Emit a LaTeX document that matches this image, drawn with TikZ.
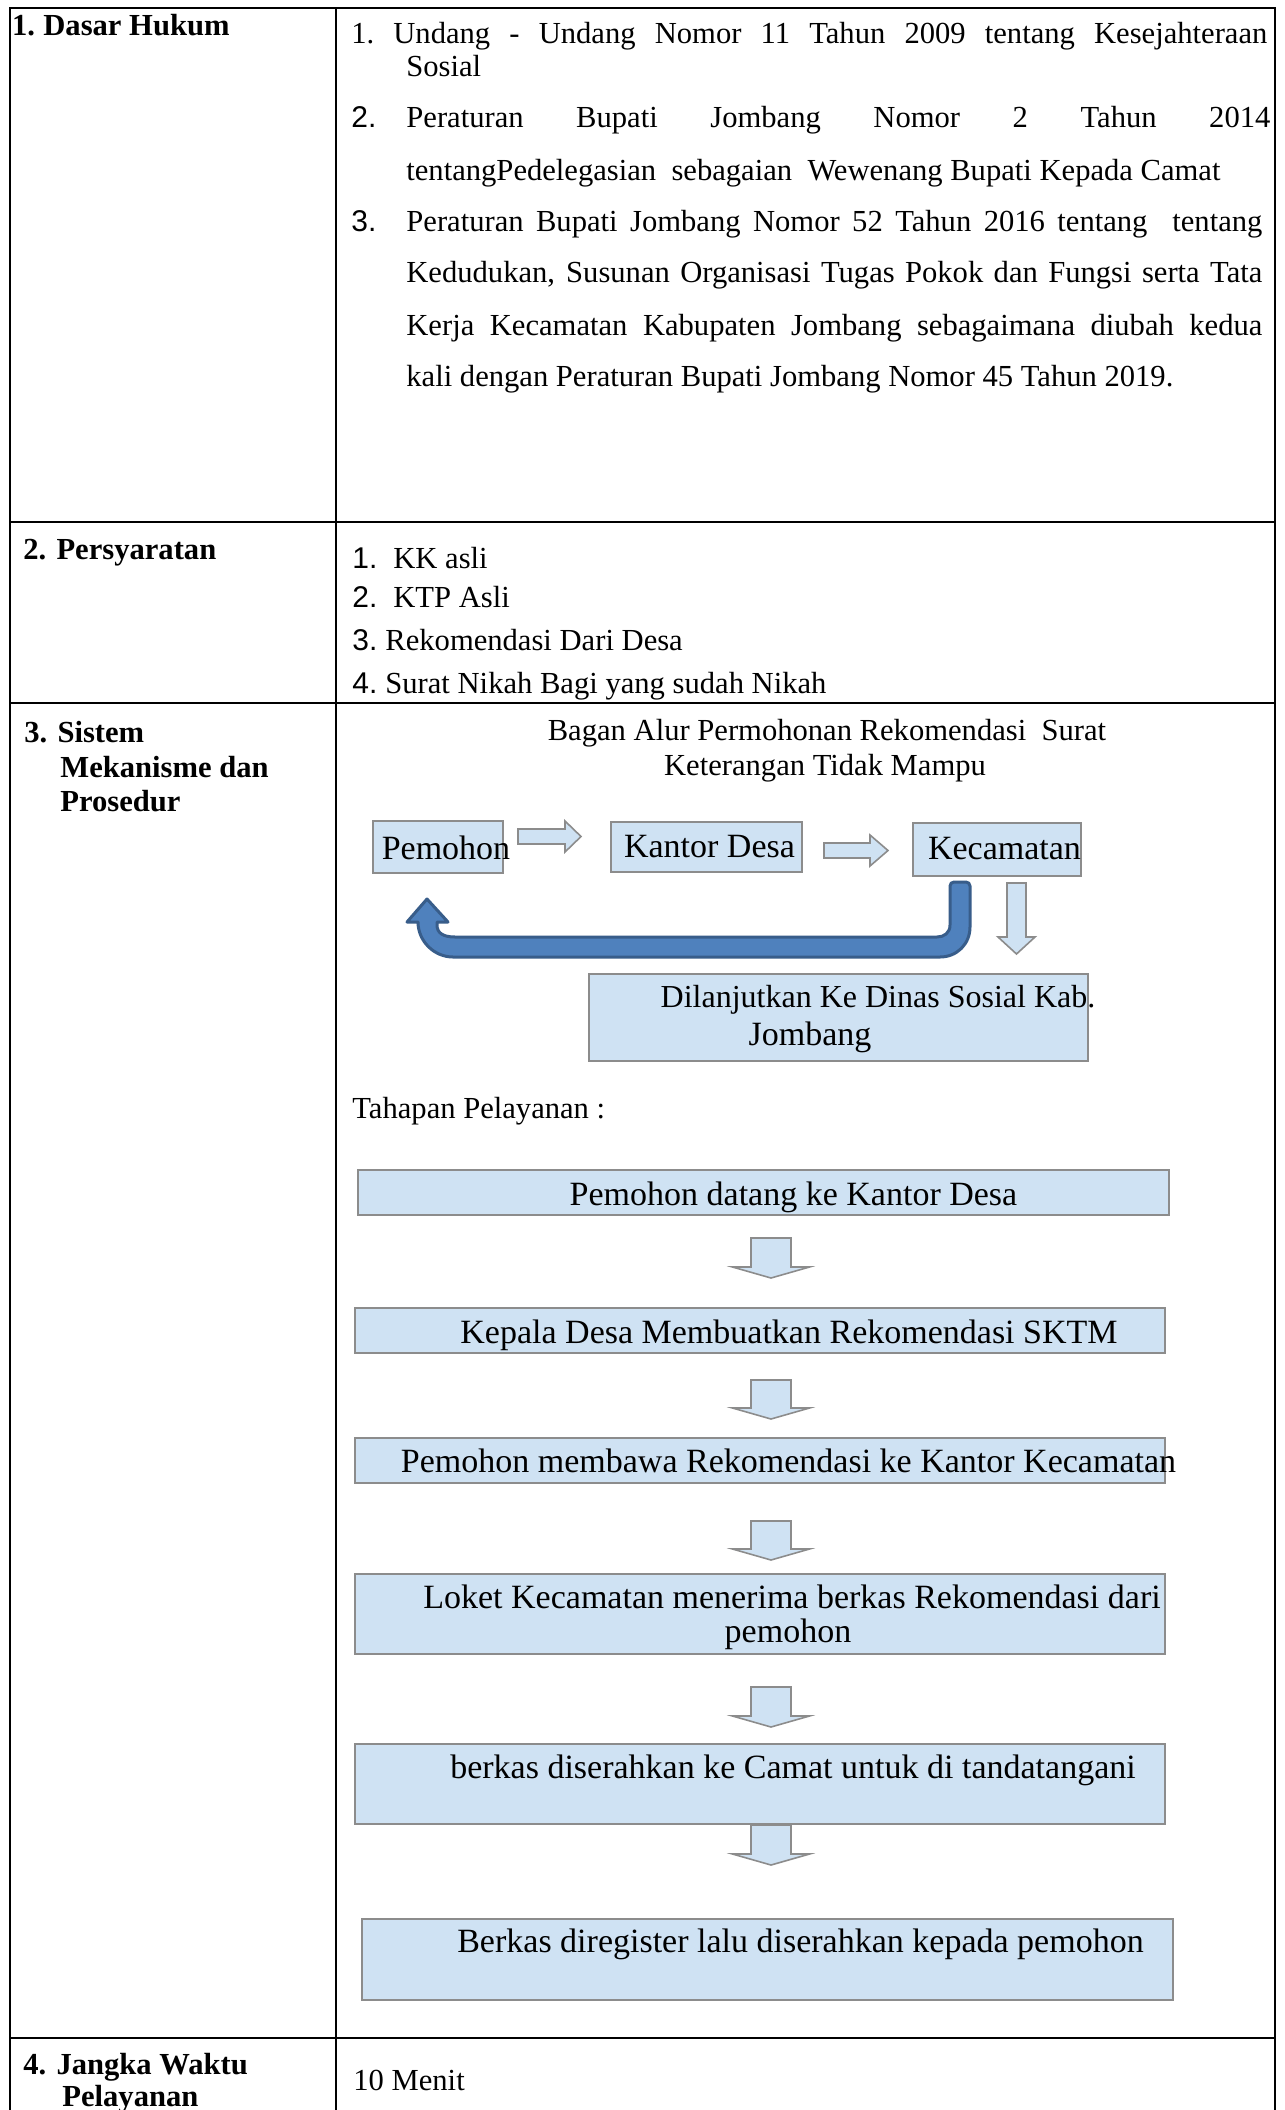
\documentclass[tikz,border=0pt]{standalone}
\usepackage{fontspec}
\setmainfont{Liberation Serif}
\newfontfamily\numsans{Liberation Sans}
\usetikzlibrary{calc,fit}

\definecolor{boxfill}{RGB}{207,226,243}
\definecolor{boxline}{RGB}{140,140,140}
\definecolor{ublue}{RGB}{79,129,189}
\definecolor{ublueline}{RGB}{56,93,138}

\tikzset{
  rule/.style={line width=1pt, black, line cap=rect},
  fbox/.style={draw=boxline, fill=boxfill, line width=0.9pt, inner sep=0pt},
  blockarrow/.style={draw=boxline, fill=boxfill, line width=0.8pt},
  body/.style={inner sep=0pt, anchor=base west, font=\fontsize{15.3}{18}\selectfont},
  hdr/.style={inner sep=0pt, anchor=base west, font=\fontsize{15.3}{18}\selectfont\bfseries},
  btxt/.style={inner sep=0pt, anchor=base, font=\fontsize{17}{20}\selectfont},
  num/.style={inner sep=0pt, anchor=base west, font=\fontsize{15}{18}\selectfont\numsans},
}

% block arrow pointing down: tail, tip, shaft half width, head half width, head length
\newcommand\downblock[5]{%
  \draw[blockarrow] ($(#1)+(-#3,0)$) -- ($(#1)+(#3,0)$) -- ($(#2)+(#3,-#5)$)
    -- ($(#2)+(#4,-#5)$) -- (#2) -- ($(#2)+(-#4,-#5)$) -- ($(#2)+(-#3,-#5)$) -- cycle;}
% block arrow pointing right: tail, tip, shaft half width, head half width, head length
\newcommand\rightblock[5]{%
  \draw[blockarrow] ($(#1)+(0,-#3)$) -- ($(#2)+(-#5,-#3)$) -- ($(#2)+(-#5,-#4)$)
    -- (#2) -- ($(#2)+(-#5,#4)$) -- ($(#2)+(-#5,#3)$) -- ($(#1)+(0,#3)$) -- cycle;}

\begin{document}
\begin{tikzpicture}[x=0.5pt,y=-0.5pt]
\useasboundingbox (0,0) rectangle (1285,2110);
\fill[white] (0,0) rectangle (1285,2110);
\clip (0,0) rectangle (1285,2110);

% ---------- table grid ----------
\draw[rule] (9.5,7.5) -- (1275,7.5);
\draw[rule] (9.5,522) -- (1275,522);
\draw[rule] (9.5,703) -- (1275,703);
\draw[rule] (9.5,2038) -- (1275,2038);
\draw[rule] (9.5,7.5) -- (9.5,2115);
\draw[rule] (335.5,7.5) -- (335.5,2115);
\draw[rule] (1275,7.5) -- (1275,2115);

% ---------- left column headings ----------
\node[hdr] (h1n) at (11.7,35) {1.};
\node[hdr] (h1) at (43,35) {Dasar Hukum};
\node[hdr] (h2) at (23,559) {2. Persyaratan};
\node[hdr] (h3) at (24,742) {3. Sistem};
\node[hdr] (h3b) at (60,777) {Mekanisme dan};
\node[hdr] (h3c) at (60,811) {Prosedur};
\node[hdr] (h4) at (23,2074) {4. Jangka Waktu};
\node[hdr] (h4b) at (62,2106) {Pelayanan};

% ---------- 1. Dasar Hukum ----------
\node[body] (d1n) at (351,43) {1.};
\node[body] (d1) at (393,43) {\makebox[437pt][s]{Undang - Undang Nomor 11 Tahun 2009 tentang Kesejahteraan}};
\node[body] (d1b) at (406,76) {Sosial};
\node[num] (d2n) at (351,127) {2.};
\node[body] (d2) at (406,127) {\makebox[432pt][s]{Peraturan Bupati Jombang Nomor 2 Tahun 2014}};
\node[body] (d2b) at (406,180) {tentangPedelegasian\ \ sebagaian\ \ Wewenang Bupati Kepada Camat};
\node[num] (d3n) at (351,231) {3.};
\node[body] (d3) at (406,231) {\makebox[428pt][s]{Peraturan Bupati Jombang Nomor 52 Tahun 2016 tentang\ \ tentang}};
\node[body] (d3b) at (406,282) {\makebox[428pt][s]{Kedudukan, Susunan Organisasi Tugas Pokok dan Fungsi serta Tata}};
\node[body] (d3c) at (406,335) {\makebox[428pt][s]{Kerja Kecamatan Kabupaten Jombang sebagaimana diubah kedua}};
\node[body] (d3d) at (406,386) {kali dengan Peraturan Bupati Jombang Nomor 45 Tahun 2019.};

% ---------- 2. Persyaratan ----------
\node[num] (p1n) at (352,568) {1.};
\node[body] (p1) at (393,568) {KK asli};
\node[num] (p2n) at (352,607) {2.};
\node[body] (p2) at (393,607) {KTP Asli};
\node[num] (p3n) at (352,650) {3.};
\node[body] (p3) at (385,650) {Rekomendasi Dari Desa};
\node[num] (p4n) at (352,693) {4.};
\node[body] (p4) at (385,693) {Surat Nikah Bagi yang sudah Nikah};

% ---------- 3. flow chart ----------
\node[body, anchor=base] (t1) at (827,740) {Bagan Alur Permohonan Rekomendasi\ \ Surat};
\node[body, anchor=base] (t2) at (825,775) {Keterangan Tidak Mampu};

\node[fbox, fit={(373,821) (503,873)}] (pem) {};
\node[fbox, fit={(611,822) (802,872)}] (kd) {};
\node[fbox, fit={(913,823) (1081,876)}] (kec) {};
\node[fbox, fit={(589,974) (1088,1061)}] (din) {};

\node[btxt] (pemt) at (446,859) {Pemohon};
\node[btxt] (kdt) at (709.5,857) {Kantor Desa};
\node[btxt] (kect) at (1004.5,859) {Kecamatan};
\node[btxt, font=\fontsize{16}{19}\selectfont] (dint) at (878,1007) {Dilanjutkan Ke Dinas Sosial Kab.};
\node[btxt] (dint2) at (810,1045) {Jombang};

\coordinate (r1a) at (518,836.5);
\coordinate (r1b) at (581,836.5);
\rightblock{r1a}{r1b}{7.5}{15.5}{16}
\coordinate (r2a) at (824,850.5);
\coordinate (r2b) at (888,850.5);
\rightblock{r2a}{r2b}{7.5}{15.5}{18}
\coordinate (k1a) at (1016.5,883);
\coordinate (k1b) at (1016.5,954);
\downblock{k1a}{k1b}{9.5}{18.5}{17}

% U-turn arrow from Kecamatan back to Pemohon
\draw[fill=ublue, draw=ublueline, line width=1.5pt, line join=round]
  (427,899) -- (448,922) -- (437,922) -- (437,925)
  .. controls (437,933) and (443,937) .. (455,937)
  -- (937,937) .. controls (944,937) and (950,933) .. (950,925)
  [rounded corners=2pt] -- (950,882) -- (970,882) [sharp corners] -- (970,927)
  .. controls (970,944) and (957,957) .. (940,957)
  -- (453,957) .. controls (434,957) and (418,941) .. (418,922)
  -- (407,922) -- cycle;

\node[body] (tp) at (352,1118) {Tahapan Pelayanan :};

% ---------- service steps ----------
\node[fbox, fit={(358,1170) (1169,1215)}] (s1) {};
\node[fbox, fit={(355,1308) (1165,1353)}] (s2) {};
\node[fbox, fit={(355,1438) (1165,1483)}] (s3) {};
\node[fbox, fit={(355,1574) (1165,1654)}] (s4) {};
\node[fbox, fit={(355,1744) (1165,1824)}] (s5) {};
\node[fbox, fit={(362,1919) (1173,2000)}] (s6) {};

\node[btxt] (s1t) at (793.5,1205) {Pemohon datang ke Kantor Desa};
\node[btxt] (s2t) at (789,1343) {Kepala Desa Membuatkan Rekomendasi SKTM};
\node[btxt] (s3t) at (788.5,1472) {Pemohon membawa Rekomendasi ke Kantor Kecamatan};
\node[btxt] (s4t) at (792,1608) {Loket Kecamatan menerima berkas Rekomendasi dari};
\node[btxt] (s4t2) at (788,1642) {pemohon};
\node[btxt] (s5t) at (793,1778) {berkas diserahkan ke Camat untuk di tandatangani};
\node[btxt] (s6t) at (800.5,1952) {Berkas diregister lalu diserahkan kepada pemohon};

\coordinate (a1a) at (771,1238); \coordinate (a1b) at (771,1278);
\coordinate (a2a) at (771,1380); \coordinate (a2b) at (771,1419);
\coordinate (a3a) at (771,1521); \coordinate (a3b) at (771,1560);
\coordinate (a4a) at (771,1687); \coordinate (a4b) at (771,1727);
\coordinate (a5a) at (771,1825); \coordinate (a5b) at (771,1865);
\downblock{a1a}{a1b}{20}{38.5}{11}
\downblock{a2a}{a2b}{20}{38.5}{11}
\downblock{a3a}{a3b}{20}{38.5}{11}
\downblock{a4a}{a4b}{20}{38.5}{11}
\downblock{a5a}{a5b}{20}{38.5}{11}

% ---------- 4. Jangka Waktu ----------
\node[body] (jw) at (353,2090) {10 Menit};
\end{tikzpicture}
\end{document}
